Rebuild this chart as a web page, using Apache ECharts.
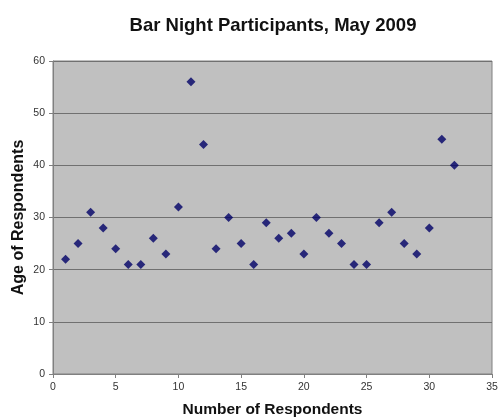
<!DOCTYPE html>
<html><head><meta charset="utf-8">
<script src="https://cdn.jsdelivr.net/npm/echarts@6/dist/echarts.min.js"></script>
<style>html,body{margin:0;padding:0;background:#fff}#c{width:498px;height:419px}</style>
</head><body><div id="c"></div>
<script>
const respondents = [1,2,3,4,5,6,7,8,9,10,11,12,13,14,15,16,17,18,19,20,21,22,23,24,25,26,27,28,29,30,31,32];
const ages = [22,25,31,28,24,21,21,26,23,32,56,44,24,30,25,21,29,26,27,23,30,27,25,21,21,29,31,25,23,28,45,40];
const data = respondents.map((r,i)=>[r, ages[i]]);
const chart = echarts.init(document.getElementById('c'));
chart.setOption({
  animation:false,
  title:{text:'Bar Night Participants, May 2009',left:268,textAlign:'center',top:11,
    textStyle:{fontFamily:'Liberation Sans, Arial',fontSize:18.5,fontWeight:'bold',color:'#111'}},
  grid:{left:53,right:6,top:61,bottom:45,outerBoundsMode:'none',containLabel:false,show:true,backgroundColor:'#c0c0c0',borderColor:'#808080',borderWidth:1},
  xAxis:{type:'value',min:0,max:35,interval:5,
    name:'Number of Respondents',nameLocation:'middle',nameGap:28,
    nameTextStyle:{fontFamily:'Liberation Sans, Arial',fontSize:15.5,fontWeight:'bold',color:'#111'},
    axisLine:{lineStyle:{color:'#808080'}},axisTick:{show:true,length:4,lineStyle:{color:'#808080'}},
    axisLabel:{fontFamily:'Liberation Sans, Arial',fontSize:10.5,color:'#333',margin:8},
    splitLine:{show:false}},
  yAxis:{type:'value',min:0,max:60,interval:10,
    name:'Age of Respondents',nameLocation:'middle',nameGap:26,nameMoveOverlap:false,
    nameTextStyle:{fontFamily:'Liberation Sans, Arial',fontSize:16,fontWeight:'bold',color:'#111'},
    axisLine:{show:true,lineStyle:{color:'#808080'}},axisTick:{show:true,length:4,lineStyle:{color:'#808080'}},
    axisLabel:{fontFamily:'Liberation Sans, Arial',fontSize:10.5,color:'#333',margin:8},
    splitLine:{show:true,lineStyle:{color:'#707070',width:1}}},
  series:[{type:'scatter',data:data,symbol:'diamond',symbolSize:9,itemStyle:{color:'#000066'}}]
});
</script></body></html>
